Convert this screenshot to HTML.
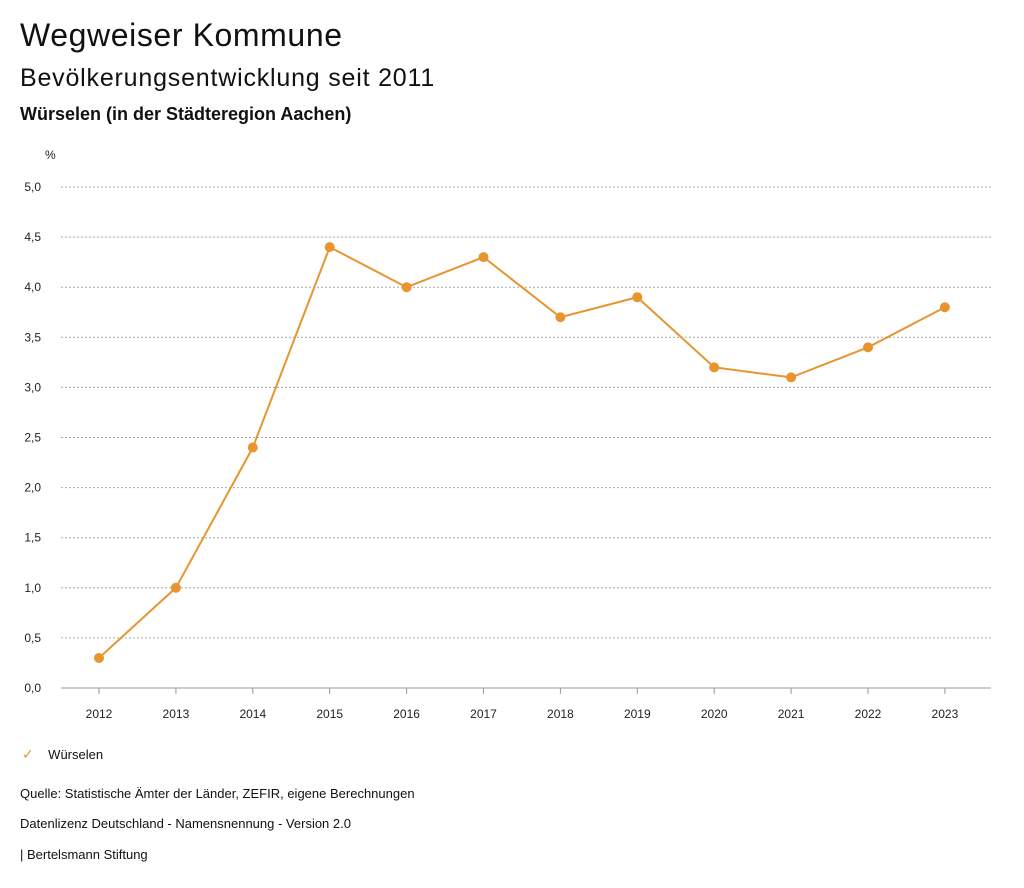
<!DOCTYPE html>
<html><head><meta charset="utf-8"><style>
body{margin:0;background:#fff;width:1024px;height:888px;overflow:hidden;font-family:"Liberation Sans",sans-serif;color:#111}
.t{position:absolute;white-space:nowrap}
</style></head><body>
<div class="t" style="left:20px;top:17px;font-size:32px;letter-spacing:0.6px">Wegweiser Kommune</div>
<div class="t" style="left:20px;top:64px;font-size:25px;letter-spacing:0.8px">Bevölkerungsentwicklung seit 2011</div>
<div class="t" style="left:20px;top:104px;font-size:18px;font-weight:bold">Würselen (in der Städteregion Aachen)</div>
<svg id="chart" width="1024" height="888" style="position:absolute;left:0;top:0" xmlns="http://www.w3.org/2000/svg"></svg>
<div class="t" style="left:22px;top:746px;font-size:13px"><span style="color:#e8952f;font-size:14px">✓</span>&nbsp;&nbsp;&nbsp;&nbsp;Würselen</div>
<div class="t" style="left:20px;top:786px;font-size:13px">Quelle: Statistische Ämter der Länder, ZEFIR, eigene Berechnungen</div>
<div class="t" style="left:20px;top:816px;font-size:13px">Datenlizenz Deutschland - Namensnennung - Version 2.0</div>
<div class="t" style="left:20px;top:847px;font-size:13px">| Bertelsmann Stiftung</div>
<script>
const years=["2012","2013","2014","2015","2016","2017","2018","2019","2020","2021","2022","2023"];
const values=[0.3,1.0,2.4,4.4,4.0,4.3,3.7,3.9,3.2,3.1,3.4,3.8];
const yTicks=[0,0.5,1,1.5,2,2.5,3,3.5,4,4.5,5];
const svg=document.getElementById('chart');const NS="http://www.w3.org/2000/svg";
const y=v=>688-v*100.2;const x=i=>99+i*76.9;
function mk(t,a){const e=document.createElementNS(NS,t);for(const k in a)e.setAttribute(k,a[k]);svg.appendChild(e);return e;}
yTicks.forEach(v=>{
 const g=mk('line',{x1:61,x2:991,y1:y(v),y2:y(v),stroke:v===0?'#999':'#aaa','stroke-dasharray':v===0?'':'2,2','stroke-width':1});
 
 
 const t=mk('text',{x:41,y:y(v)+4,'text-anchor':'end','font-size':12,fill:'#222'});t.textContent=v.toFixed(1).replace('.',',');
 
 
});
const u=mk('text',{x:45,y:159,'font-size':12,fill:'#222'});u.textContent='%';


years.forEach((yr,i)=>{
 const tk=mk('line',{x1:x(i),x2:x(i),y1:688,y2:694,stroke:'#999'});
 
 
 const t=mk('text',{x:x(i),y:718,'text-anchor':'middle','font-size':12,fill:'#222'});t.textContent=yr;
 
 
});
const p=mk('polyline',{points:values.map((v,i)=>x(i)+','+y(v)).join(' '),fill:'none',stroke:'#e8952f','stroke-width':2});


values.forEach((v,i)=>{
 const c=mk('circle',{cx:x(i),cy:y(v),r:5,fill:'#e8952f'});
 
 
});
</script>
</body></html>
